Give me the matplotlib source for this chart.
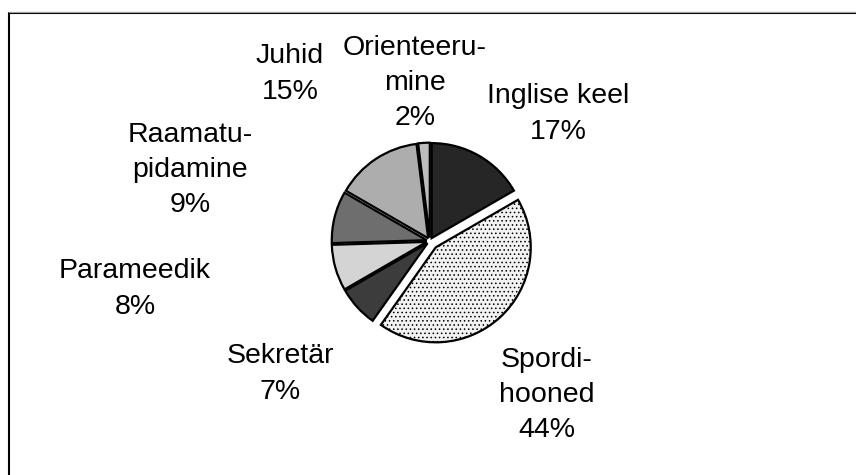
import matplotlib
matplotlib.use('Agg')
import matplotlib.pyplot as plt
from matplotlib.lines import Line2D

plt.rcParams['font.family'] = ['Liberation Sans', 'DejaVu Sans']
plt.rcParams['hatch.linewidth'] = 0.6

# slices, clockwise from 12 o'clock
labels = ['Inglise keel', 'Spordi-\nhooned', 'Sekretär', 'Parameedik',
          'Raamatu-\npidamine', 'Juhid', 'Orienteeru-\nmine']
shares = [17, 44, 7, 8, 9, 15, 2]
pct_text = ['17%', '44%', '7%', '8%', '9%', '15%', '2%']

colors = ['#262626', '#f2f2f2', '#3c3c3c', '#d4d4d4', '#6e6e6e', '#adadad', '#bdbdbd']
hatches = [None, '....', None, None, None, None, None]
explode = [0.035, 0.09, 0.035, 0.035, 0.035, 0.035, 0.035]

# label block centres in pixels (x, y from top)
label_pos = [(558, 114), (547, 395), (280, 374), (135, 289),
             (190, 170), (290, 74), (415, 83)]

W, H = 856, 475
fig = plt.figure(figsize=(W / 100, H / 100), dpi=100)

cx, cy, R = 430, 241, 95
half = 1.2 * R
ax = fig.add_axes([(cx - half) / W, (H - cy - half) / H, 2 * half / W, 2 * half / H])
wedges, _ = ax.pie(shares, startangle=90, counterclock=False, colors=colors,
                   explode=explode, radius=1.0,
                   wedgeprops=dict(edgecolor='black', linewidth=1.6))
for w, h in zip(wedges, hatches):
    if h:
        w.set_hatch(h)
ax.set_xlim(-1.2, 1.2)
ax.set_ylim(-1.2, 1.2)
ax.set_aspect('auto')
ax.axis('off')

for lab, pct, (px, py) in zip(labels, pct_text, label_pos):
    fig.text(px / W, 1 - py / H, lab + '\n' + pct, ha='center', va='center',
             fontsize=20.5, linespacing=1.46, color='black')

# frame (only left and top edges visible)
fig.add_artist(Line2D([9 / W, 9 / W, 1.0], [0.0, 1 - 13 / H, 1 - 13 / H],
                      transform=fig.transFigure, color='black', linewidth=1.5))
fig.add_artist(Line2D([9 / W, 1.0], [1 - 11.5 / H, 1 - 11.5 / H],
                      transform=fig.transFigure, color='#a0a0a0', linewidth=0.8))

fig.savefig('out.png', dpi=100)
